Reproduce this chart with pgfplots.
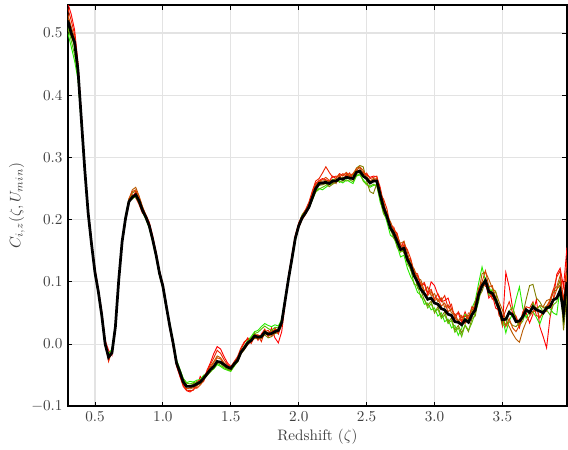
\documentclass[border=0pt]{standalone}
\usepackage{pgfplots}
\usepackage{pgfplotstable}
\pgfplotsset{compat=1.18}
\definecolor{cA}{RGB}{255,0,0}
\definecolor{cB}{RGB}{40,235,0}
\definecolor{cC}{RGB}{128,128,0}
\definecolor{cD}{RGB}{184,90,0}
\definecolor{cE}{RGB}{235,35,0}
\definecolor{cF}{RGB}{90,190,0}
\definecolor{cG}{RGB}{215,70,0}
\pgfplotstableread{
x m a b c d e f g
0.300 0.520 0.548 0.500 0.505 0.525 0.540 0.510 0.530
0.325 0.500 0.530 0.478 0.495 0.505 0.520 0.488 0.510
0.350 0.485 0.505 0.455 0.478 0.488 0.498 0.465 0.492
0.375 0.440 0.452 0.425 0.437 0.443 0.448 0.430 0.445
0.400 0.360 0.366 0.352 0.358 0.362 0.365 0.355 0.363
0.425 0.280 0.284 0.276 0.279 0.283 0.282 0.277 0.281
0.450 0.210 0.214 0.207 0.211 0.213 0.209 0.208 0.212
0.475 0.160 0.165 0.157 0.162 0.158 0.163 0.159 0.161
0.500 0.115 0.121 0.113 0.112 0.118 0.116 0.114 0.117
0.525 0.084 0.088 0.081 0.086 0.083 0.087 0.082 0.085
0.550 0.046 0.052 0.044 0.047 0.049 0.045 0.043 0.048
0.575 0.000 0.006 -0.002 0.003 0.004 0.001 -0.003 0.002
0.600 -0.021 -0.010 -0.016 -0.024 -0.018 -0.028 -0.020 -0.022
0.625 -0.014 -0.018 -0.008 -0.012 -0.016 -0.011 -0.013 -0.015
0.650 0.027 0.024 0.030 0.028 0.026 0.025 0.029 0.027
0.675 0.103 0.100 0.105 0.104 0.102 0.101 0.106 0.103
0.700 0.165 0.162 0.167 0.166 0.168 0.163 0.164 0.166
0.725 0.202 0.199 0.205 0.204 0.203 0.200 0.206 0.201
0.750 0.229 0.226 0.233 0.228 0.232 0.230 0.231 0.234
0.775 0.236 0.240 0.238 0.243 0.248 0.236 0.233 0.245
0.800 0.240 0.235 0.236 0.246 0.252 0.245 0.238 0.248
0.825 0.230 0.224 0.228 0.233 0.238 0.229 0.226 0.236
0.850 0.215 0.210 0.214 0.217 0.221 0.219 0.212 0.220
0.875 0.204 0.207 0.201 0.205 0.206 0.203 0.200 0.208
0.900 0.190 0.196 0.186 0.188 0.193 0.191 0.187 0.194
0.925 0.168 0.174 0.165 0.166 0.171 0.170 0.164 0.169
0.950 0.143 0.146 0.140 0.141 0.145 0.148 0.139 0.144
0.975 0.114 0.118 0.112 0.110 0.116 0.117 0.111 0.115
1.000 0.093 0.096 0.092 0.089 0.095 0.094 0.090 0.097
1.025 0.061 0.063 0.060 0.057 0.064 0.062 0.058 0.065
1.050 0.030 0.028 0.033 0.027 0.031 0.026 0.034 0.029
1.075 0.002 -0.003 0.006 0.000 0.004 -0.001 0.005 0.003
1.100 -0.030 -0.035 -0.025 -0.031 -0.028 -0.034 -0.026 -0.032
1.125 -0.045 -0.052 -0.040 -0.044 -0.047 -0.050 -0.041 -0.046
1.150 -0.061 -0.068 -0.055 -0.058 -0.064 -0.066 -0.056 -0.063
1.175 -0.068 -0.075 -0.062 -0.066 -0.071 -0.074 -0.063 -0.072
1.200 -0.068 -0.077 -0.060 -0.069 -0.072 -0.075 -0.064 -0.070
1.225 -0.067 -0.073 -0.061 -0.063 -0.070 -0.074 -0.062 -0.069
1.250 -0.064 -0.069 -0.058 -0.066 -0.067 -0.060 -0.061 -0.071
1.275 -0.061 -0.052 -0.057 -0.064 -0.063 -0.058 -0.060 -0.066
1.300 -0.055 -0.060 -0.050 -0.057 -0.052 -0.054 -0.053 -0.059
1.325 -0.048 -0.042 -0.049 -0.051 -0.045 -0.044 -0.050 -0.047
1.350 -0.041 -0.030 -0.043 -0.044 -0.036 -0.033 -0.045 -0.039
1.375 -0.036 -0.015 -0.040 -0.037 -0.028 -0.022 -0.039 -0.030
1.400 -0.028 -0.004 -0.033 -0.030 -0.019 -0.010 -0.031 -0.022
1.425 -0.029 -0.008 -0.036 -0.031 -0.022 -0.015 -0.034 -0.024
1.450 -0.033 -0.020 -0.040 -0.036 -0.030 -0.025 -0.038 -0.031
1.475 -0.037 -0.030 -0.042 -0.040 -0.035 -0.033 -0.041 -0.036
1.500 -0.039 -0.036 -0.044 -0.042 -0.038 -0.037 -0.043 -0.040
1.525 -0.032 -0.030 -0.035 -0.034 -0.031 -0.028 -0.036 -0.033
1.550 -0.026 -0.022 -0.026 -0.029 -0.024 -0.020 -0.028 -0.027
1.575 -0.013 -0.008 -0.011 -0.016 -0.012 -0.006 -0.014 -0.015
1.600 -0.006 0.002 -0.003 -0.009 -0.004 0.004 -0.007 -0.008
1.625 0.002 0.010 0.006 0.000 0.004 0.008 0.003 -0.001
1.650 0.006 0.003 0.012 0.004 0.009 0.001 0.010 0.005
1.675 0.013 0.018 0.020 0.010 0.016 0.012 0.017 0.009
1.700 0.011 0.006 0.022 0.008 0.014 0.015 0.019 0.010
1.725 0.012 0.016 0.028 0.009 0.013 0.004 0.024 0.011
1.750 0.019 0.024 0.033 0.015 0.022 0.020 0.029 0.017
1.775 0.016 0.012 0.030 0.010 0.018 0.022 0.025 0.014
1.800 0.017 0.026 0.028 0.012 0.020 0.015 0.022 0.013
1.825 0.020 0.010 0.031 0.017 0.023 0.026 0.027 0.018
1.850 0.022 0.002 0.029 0.018 0.024 0.016 0.026 0.021
1.875 0.035 0.020 0.040 0.030 0.037 0.032 0.039 0.034
1.900 0.070 0.065 0.074 0.068 0.071 0.072 0.073 0.069
1.925 0.105 0.108 0.103 0.104 0.107 0.110 0.102 0.106
1.950 0.137 0.141 0.134 0.136 0.139 0.143 0.133 0.138
1.975 0.170 0.174 0.167 0.169 0.172 0.175 0.166 0.171
2.000 0.190 0.193 0.192 0.188 0.191 0.195 0.189 0.187
2.025 0.203 0.205 0.208 0.201 0.204 0.207 0.206 0.200
2.050 0.211 0.214 0.215 0.209 0.212 0.216 0.213 0.208
2.075 0.220 0.226 0.222 0.218 0.223 0.228 0.219 0.221
2.100 0.235 0.243 0.233 0.232 0.238 0.246 0.231 0.240
2.125 0.250 0.258 0.246 0.247 0.254 0.262 0.244 0.256
2.150 0.258 0.263 0.250 0.255 0.261 0.266 0.249 0.262
2.175 0.259 0.266 0.248 0.256 0.262 0.275 0.252 0.264
2.200 0.260 0.264 0.252 0.258 0.263 0.285 0.255 0.268
2.225 0.258 0.262 0.256 0.253 0.261 0.276 0.259 0.263
2.250 0.262 0.270 0.258 0.257 0.265 0.268 0.264 0.259
2.275 0.262 0.266 0.263 0.260 0.258 0.270 0.266 0.267
2.300 0.266 0.274 0.262 0.264 0.271 0.268 0.260 0.273
2.325 0.265 0.271 0.259 0.268 0.262 0.274 0.263 0.270
2.350 0.268 0.275 0.264 0.266 0.273 0.270 0.262 0.276
2.375 0.267 0.269 0.261 0.272 0.265 0.275 0.264 0.271
2.400 0.266 0.273 0.258 0.270 0.268 0.264 0.261 0.274
2.425 0.276 0.280 0.270 0.283 0.279 0.276 0.271 0.282
2.450 0.278 0.275 0.272 0.287 0.284 0.280 0.274 0.285
2.475 0.270 0.276 0.264 0.285 0.275 0.272 0.262 0.279
2.500 0.266 0.272 0.258 0.262 0.270 0.275 0.256 0.268
2.525 0.259 0.268 0.252 0.245 0.262 0.266 0.254 0.260
2.550 0.262 0.270 0.255 0.242 0.266 0.268 0.257 0.264
2.575 0.262 0.269 0.256 0.258 0.265 0.270 0.254 0.266
2.600 0.240 0.252 0.228 0.236 0.246 0.241 0.231 0.249
2.625 0.219 0.226 0.214 0.210 0.229 0.233 0.209 0.220
2.650 0.205 0.199 0.196 0.210 0.207 0.217 0.201 0.212
2.675 0.187 0.196 0.175 0.185 0.197 0.190 0.183 0.186
2.700 0.178 0.184 0.171 0.170 0.182 0.188 0.176 0.183
2.725 0.165 0.178 0.158 0.163 0.166 0.172 0.155 0.176
2.750 0.152 0.155 0.140 0.156 0.162 0.149 0.148 0.160
2.775 0.154 0.165 0.143 0.146 0.165 0.160 0.150 0.156
2.800 0.136 0.140 0.122 0.137 0.148 0.152 0.129 0.140
2.825 0.126 0.135 0.108 0.118 0.125 0.137 0.120 0.134
2.850 0.110 0.109 0.098 0.114 0.121 0.115 0.096 0.118
2.875 0.100 0.110 0.083 0.090 0.106 0.113 0.094 0.101
2.900 0.088 0.093 0.079 0.086 0.103 0.095 0.075 0.098
2.925 0.081 0.097 0.064 0.071 0.085 0.099 0.072 0.082
2.950 0.072 0.079 0.066 0.062 0.092 0.083 0.058 0.078
2.975 0.074 0.100 0.055 0.069 0.078 0.088 0.065 0.085
3.000 0.066 0.094 0.058 0.050 0.081 0.072 0.052 0.070
3.025 0.064 0.079 0.045 0.060 0.068 0.081 0.056 0.073
3.050 0.057 0.068 0.050 0.044 0.074 0.070 0.041 0.061
3.075 0.055 0.070 0.036 0.052 0.059 0.078 0.047 0.066
3.100 0.048 0.074 0.040 0.035 0.063 0.058 0.033 0.052
3.125 0.046 0.056 0.026 0.042 0.050 0.064 0.038 0.057
3.150 0.036 0.047 0.030 0.022 0.048 0.040 0.019 0.044
3.175 0.035 0.050 0.014 0.030 0.037 0.052 0.026 0.035
3.200 0.031 0.035 0.025 0.018 0.046 0.042 0.012 0.040
3.225 0.039 0.052 0.048 0.030 0.035 0.045 0.031 0.033
3.250 0.035 0.038 0.038 0.020 0.050 0.041 0.022 0.046
3.275 0.047 0.055 0.058 0.041 0.049 0.060 0.034 0.044
3.300 0.055 0.058 0.070 0.045 0.068 0.052 0.051 0.064
3.325 0.080 0.088 0.098 0.075 0.082 0.085 0.068 0.090
3.350 0.094 0.092 0.124 0.085 0.113 0.098 0.096 0.100
3.375 0.102 0.100 0.102 0.101 0.116 0.093 0.106 0.118
3.400 0.084 0.074 0.094 0.078 0.104 0.090 0.080 0.092
3.425 0.082 0.080 0.078 0.081 0.090 0.072 0.088 0.094
3.450 0.071 0.058 0.085 0.066 0.084 0.077 0.070 0.073
3.475 0.057 0.054 0.055 0.052 0.068 0.046 0.063 0.062
3.500 0.039 0.030 0.042 0.030 0.055 0.040 0.041 0.045
3.525 0.040 0.115 0.018 0.032 0.038 0.055 0.030 0.028
3.550 0.051 0.092 0.038 0.036 0.028 0.068 0.053 0.041
3.575 0.047 0.058 0.048 0.030 0.017 0.050 0.060 0.026
3.600 0.036 0.042 0.072 0.028 0.008 0.045 0.038 0.020
3.625 0.037 0.026 0.092 0.034 0.003 0.030 0.030 0.030
3.650 0.044 0.045 0.058 0.048 0.022 0.052 0.037 0.042
3.675 0.055 0.050 0.042 0.072 0.036 0.060 0.054 0.057
3.700 0.051 0.034 0.053 0.094 0.045 0.058 0.050 0.048
3.725 0.060 0.048 0.052 0.096 0.052 0.068 0.066 0.052
3.750 0.055 0.072 0.043 0.074 0.054 0.046 0.056 0.058
3.775 0.053 0.028 0.032 0.068 0.062 0.043 0.061 0.042
3.800 0.050 0.012 0.048 0.058 0.060 0.050 0.052 0.053
3.825 0.058 -0.006 0.058 0.061 0.070 0.053 0.055 0.060
3.850 0.060 0.042 0.057 0.068 0.072 0.068 0.047 0.071
3.875 0.071 0.072 0.050 0.083 0.088 0.087 0.063 0.072
3.900 0.074 0.112 0.047 0.088 0.092 0.108 0.068 0.088
3.925 0.086 0.122 0.092 0.103 0.110 0.118 0.093 0.095
3.950 0.050 0.092 0.032 0.022 0.062 0.068 0.043 0.055
3.975 0.100 0.155 0.085 0.080 0.115 0.135 0.095 0.110
}\datatable
\begin{document}
\begin{tikzpicture}
\begin{axis}[
  scale only axis,
  width=329pt, height=264.5pt,
  xmin=0.3, xmax=3.975,
  ymin=-0.1, ymax=0.545,
  xtick={0.5,1.0,1.5,2.0,2.5,3.0,3.5},
  ytick={-0.1,0,0.1,0.2,0.3,0.4,0.5},
  xticklabel style={/pgf/number format/.cd,fixed,fixed zerofill,precision=1},
  yticklabel style={/pgf/number format/.cd,fixed,fixed zerofill,precision=1},
  ticklabel style={text=black!75},
  tick align=inside,
  major tick length=3pt,
  tick style={black, line width=0.6pt},
  grid=major,
  major grid style={gray!22, line width=0.7pt},
  axis line style={black, line width=1.3pt},
  xlabel={Redshift ($\zeta$)},
  ylabel={$C_{i,z}(\zeta, U_{min})$},
  label style={text=black!75},
  xlabel style={at={(axis description cs:0.5,-0.075)}, anchor=center},
  ylabel style={at={(axis description cs:-0.102,0.5)}, anchor=center},
  clip=true,
]
\addplot[cA, line width=0.6pt] table[x=x, y=a] {\datatable};
\addplot[cB, line width=0.6pt] table[x=x, y=b] {\datatable};
\addplot[cC, line width=0.6pt] table[x=x, y=c] {\datatable};
\addplot[cD, line width=0.6pt] table[x=x, y=d] {\datatable};
\addplot[cE, line width=0.6pt] table[x=x, y=e] {\datatable};
\addplot[cF, line width=0.6pt] table[x=x, y=f] {\datatable};
\addplot[cG, line width=0.6pt] table[x=x, y=g] {\datatable};
\addplot[black, line width=1.8pt] table[x=x, y=m] {\datatable};
\coordinate (SW) at (rel axis cs:0,0);
\coordinate (NE) at (rel axis cs:1,1);
\end{axis}
\pgfresetboundingbox
\path[use as bounding box] ([xshift=-44.7pt,yshift=-28.3pt]SW) rectangle ([xshift=0.7pt,yshift=3.3pt]NE);
\end{tikzpicture}
\end{document}
